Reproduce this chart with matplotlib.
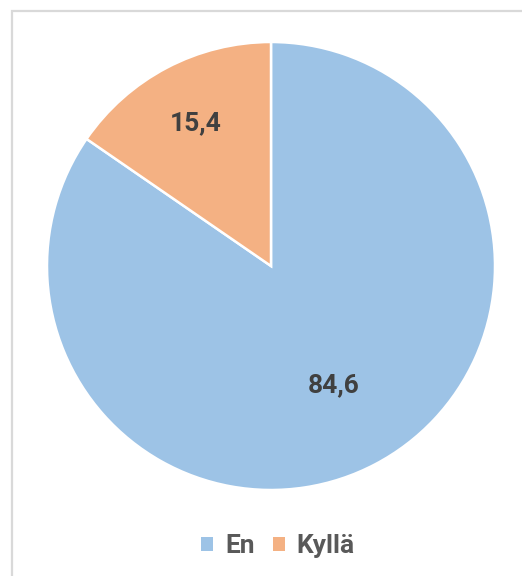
import numpy as np
import matplotlib.pyplot as plt
from matplotlib.patches import Rectangle, Patch

# Answer shares (%)
labels = ['En', 'Kyllä']
values = [84.6, 15.4]
colors = ['#9DC3E6', '#F4B183']
label_dist = [0.60, 0.72]

plt.rcParams['font.family'] = ['Roboto', 'DejaVu Sans']

fig = plt.figure(figsize=(5.22, 5.76), dpi=100)
W, H = 522, 576

# chart frame (light grey border)
fig.patches.append(Rectangle((12 / W, -0.01), 1.0, 1 - 11 / H + 0.01,
                             transform=fig.transFigure, fill=False,
                             edgecolor='#D9D9D9', linewidth=1.6))

ax = fig.add_axes([47 / W, 86 / H, 448 / W, 448 / H])
wedges, _ = ax.pie(values, colors=colors, startangle=90, counterclock=False,
                   wedgeprops=dict(edgecolor='white', linewidth=1.8))
ax.set_xlim(-1, 1)
ax.set_ylim(-1, 1)
ax.set_aspect('equal')

for w, v, d in zip(wedges, values, label_dist):
    ang = np.deg2rad((w.theta1 + w.theta2) / 2)
    ax.text(d * np.cos(ang), d * np.sin(ang), f'{v:.1f}'.replace('.', ','),
            ha='center', va='center', fontsize=19, fontweight='bold',
            color='#404040')

handles = [Patch(facecolor=c, edgecolor='none') for c in colors]
fig.legend(handles, labels, loc='center', bbox_to_anchor=(278 / W, 1 - 546 / H),
           ncol=2, frameon=False, handlelength=0.45,
           handleheight=0.45, handletextpad=0.45, columnspacing=0.7,
           labelcolor='#595959', prop=dict(weight='bold', size=19))

fig.savefig('out.png', dpi=100)
